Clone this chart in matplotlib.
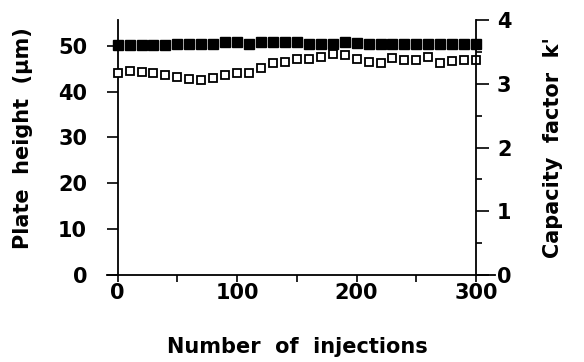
import numpy as np
import matplotlib
matplotlib.use("Agg")
import matplotlib.pyplot as plt
from matplotlib.ticker import MultipleLocator

injections = np.arange(0, 301, 10)

# plate height (um), open squares, left axis
plate_height = [44.1, 44.5, 44.3, 44.0, 43.6, 43.2, 42.7, 42.5, 42.9, 43.6,
                44.0, 44.1, 45.1, 46.2, 46.5, 47.0, 47.1, 47.5, 48.2, 48.0,
                47.0, 46.5, 46.2, 47.3, 46.9, 46.9, 47.5, 46.3, 46.7, 46.9,
                46.8]

# capacity factor k', filled squares, right axis
capacity = [3.61, 3.61, 3.61, 3.61, 3.61, 3.62, 3.62, 3.62, 3.63, 3.65,
            3.65, 3.63, 3.66, 3.65, 3.65, 3.65, 3.63, 3.63, 3.63, 3.65,
            3.64, 3.63, 3.63, 3.63, 3.63, 3.63, 3.63, 3.63, 3.63, 3.63,
            3.63]

left_ticks = [0, 10, 20, 30, 40, 50]
right_ticks = [0, 1, 2, 3, 4]
x_ticks = [0, 100, 200, 300]

font = dict(family="DejaVu Sans", weight="bold", size=15)

fig = plt.figure(figsize=(5.84, 3.62), dpi=100)
ax = fig.add_axes([0.183, 0.240, 0.665, 0.705])
ax2 = ax.twinx()

ax.plot(injections, plate_height, ls="none", marker="s", ms=6,
        mfc="white", mec="black", mew=1.3, clip_on=False, zorder=3)
ax2.plot(injections, capacity, ls="none", marker="s", ms=6.8,
         mfc="black", mec="black", clip_on=False, zorder=3)

ax.set_xlim(-9, 316)
ax.set_ylim(0, 55.6)
ax2.set_ylim(0, 4)

for s in ["top", "right"]:
    ax.spines[s].set_visible(False)
for s in ["top", "left", "bottom"]:
    ax2.spines[s].set_visible(False)
ax.spines["left"].set_position(("data", 0))
ax2.spines["right"].set_position(("data", 300))
for sp in [ax.spines["left"], ax.spines["bottom"], ax2.spines["right"]]:
    sp.set_linewidth(1.3)

ax.set_xticks(x_ticks)
ax.xaxis.set_minor_locator(MultipleLocator(50))
ax.set_yticks(left_ticks)
ax2.set_yticks(right_ticks)
ax2.yaxis.set_minor_locator(MultipleLocator(0.5))

ax.tick_params(axis="x", which="both", direction="out", length=5, width=1.2, pad=1)
ax.tick_params(axis="y", direction="out", length=8, width=1.2, pad=14)
ax2.tick_params(axis="y", which="major", direction="out", length=9, width=1.2, pad=6)
ax2.tick_params(axis="y", which="minor", direction="out", length=4.5, width=1.2)

ax.set_xticklabels([str(v) for v in x_ticks], **font)
ax.set_yticklabels([str(v) for v in left_ticks], **font)
ax2.set_yticklabels([str(v) for v in right_ticks], **font)

ax.set_xlabel("Number  of  injections", **font)
ax.set_ylabel("Plate  height  (\u03bcm)", **font)
ax2.set_ylabel("Capacity  factor  k'", **font)
ax.xaxis.set_label_coords(0.49, -0.243)
ax.yaxis.set_label_coords(-0.191, 0.537)
ax2.yaxis.set_label_coords(1.124, 0.5)

fig.savefig("out.png", dpi=100)
